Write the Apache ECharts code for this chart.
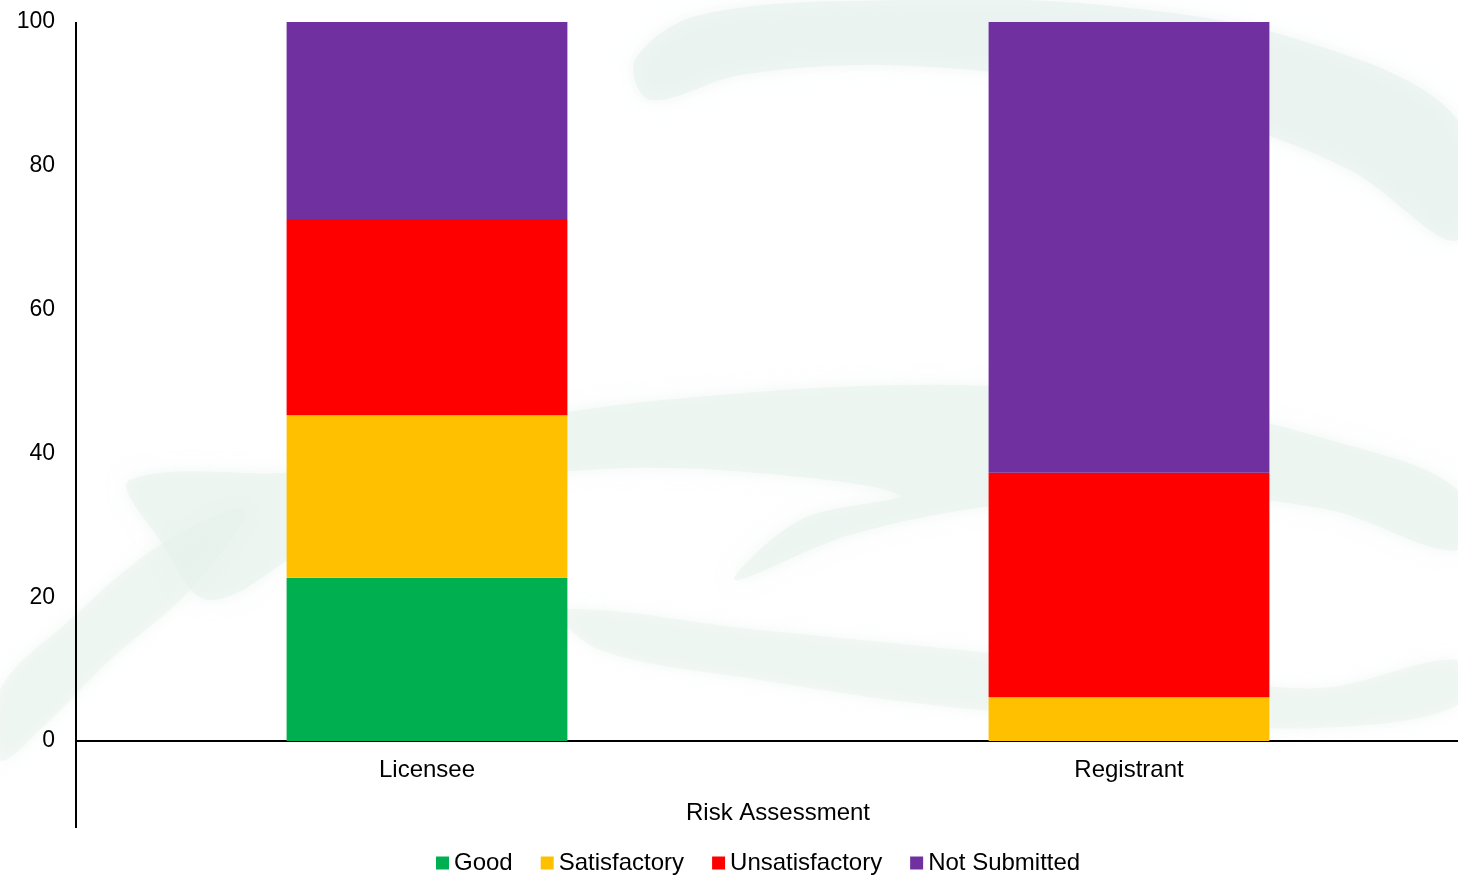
<!DOCTYPE html>
<html>
<head>
<meta charset="utf-8">
<script src="https://cdn.jsdelivr.net/npm/echarts@6/dist/echarts.min.js"></script>
<style>
  html, body { margin: 0; padding: 0; background: #ffffff; }
  #chart { width: 1458px; height: 877px; }
</style>
</head>
<body>
<div id="chart"></div>
<script>
// Risk assessment outcomes, percentage of each group
const categories = ['Licensee', 'Registrant'];
const good = [22.7, 0];
const satisfactory = [22.6, 6.1];
const unsatisfactory = [27.3, 31.2];
const notSubmitted = [27.4, 62.7];
const yTicks = [0, 20, 40, 60, 80, 100];

const seriesNames = ['Good', 'Satisfactory', 'Unsatisfactory', 'Not Submitted'];
const seriesColors = ['#00b050', '#ffc000', '#ff0000', '#7030a0'];
const seriesData = [good, satisfactory, unsatisfactory, notSubmitted];

const FONT = '"Liberation Sans", Arial, sans-serif';
const chart = echarts.init(document.getElementById('chart'));

// faint swoosh watermark behind the plot
const wash = '#e6f1ec';
function swoosh(points, opacity) {
  return {
    type: 'polygon', z: -10, silent: true,
    shape: { points, smooth: 0.35 },
    style: { fill: wash, opacity, shadowBlur: 18, shadowColor: wash }
  };
}
const watermark = [
  swoosh([[635, 60], [700, 15], [900, 0], [1100, 5], [1300, 40], [1458, 120], [1458, 240],
          [1350, 170], [1220, 120], [1050, 80], [880, 65], [740, 75], [650, 100]], 0.55),
  swoosh([[130, 480], [320, 470], [520, 420], [720, 395], [950, 385], [1150, 400], [1330, 440],
          [1458, 490], [1458, 550], [1330, 510], [1180, 495], [1000, 505], [850, 535], [735, 580],
          [800, 520], [900, 495], [720, 470], [560, 472], [430, 495], [320, 540], [210, 600],
          [160, 540]], 0.5),
  swoosh([[0, 690], [70, 620], [160, 545], [245, 510], [190, 590], [110, 660], [40, 730], [0, 760]], 0.45),
  swoosh([[560, 610], [760, 630], [980, 652], [1160, 672], [1320, 688], [1458, 660], [1458, 705],
          [1320, 728], [1120, 720], [940, 706], [760, 680], [600, 650]], 0.45)
];

chart.setOption({
  animation: false,
  backgroundColor: '#ffffff',
  textStyle: { fontFamily: FONT, color: '#000000' },
  grid: { left: 76, width: 1404, top: 22, bottom: 136, containLabel: false, outerBoundsMode: 'none' },
  legend: {
    bottom: -3,
    left: 431,
    itemWidth: 13,
    itemHeight: 13,
    itemGap: 28,
    icon: 'rect',
    textStyle: { fontFamily: FONT, fontSize: 24, color: '#000000' },
    data: seriesNames
  },
  xAxis: {
    type: 'category',
    data: categories,
    name: 'Risk Assessment',
    nameLocation: 'middle',
    nameGap: 60,
    nameTextStyle: { fontFamily: FONT, fontSize: 24, color: '#000000' },
    axisLine: { lineStyle: { color: '#000000', width: 2 } },
    axisTick: { show: false },
    axisLabel: { fontFamily: FONT, fontSize: 24, color: '#000000', margin: 17 }
  },
  yAxis: {
    type: 'value',
    min: 0,
    max: 100,
    interval: 20,
    axisLine: { show: false },
    axisTick: { show: false },
    splitLine: { show: false },
    axisLabel: {
      fontFamily: FONT, fontSize: 23, color: '#000000', margin: 21,
      formatter: v => (yTicks.includes(v) ? String(v) : '')
    }
  },
  graphic: watermark.concat([
    // vertical axis line, running down past the category labels
    { type: 'line', z: 100, silent: true,
      shape: { x1: 76, y1: 22, x2: 76, y2: 828 },
      style: { stroke: '#000000', lineWidth: 2 } }
  ]),
  series: seriesNames.map((name, i) => ({
    name,
    type: 'bar',
    stack: 'total',
    barWidth: '40%',
    itemStyle: { color: seriesColors[i] },
    data: seriesData[i]
  }))
});
</script>
</body>
</html>
